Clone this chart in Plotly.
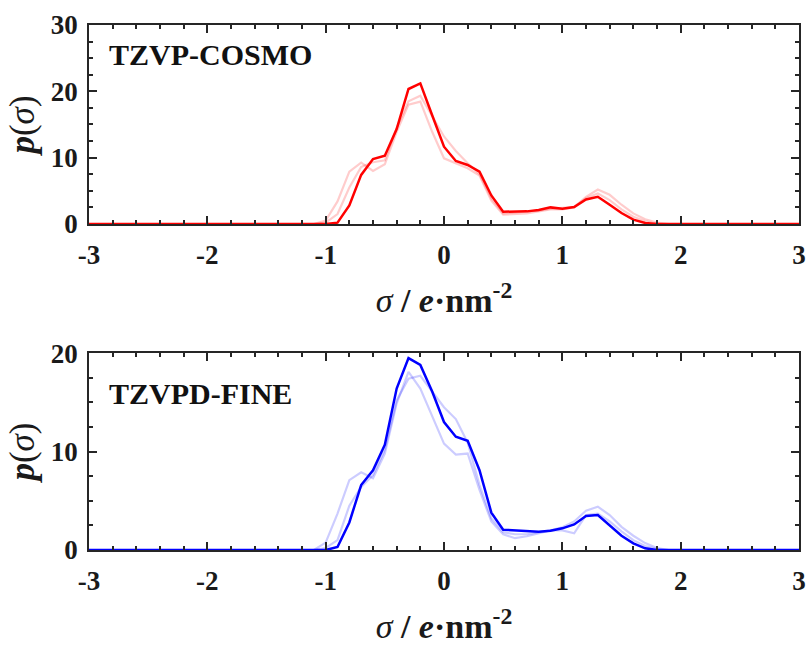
import plotly.graph_objects as go

# Screening-charge grid (e/nm^2)
sigma = [-3.0, -1.1, -1.0, -0.9, -0.8, -0.7, -0.6, -0.5, -0.4, -0.3, -0.2, -0.1,
         0.0, 0.1, 0.2, 0.3, 0.4, 0.5, 0.6, 0.7, 0.8, 0.9, 1.0, 1.1, 1.2, 1.3,
         1.4, 1.5, 1.6, 1.7, 1.8, 1.9, 3.0]

# TZVP-COSMO sigma profiles
cosmo_main = [0, 0, 0, 0.2, 2.8, 7.4, 9.8, 10.3, 14.3, 20.35, 21.2, 16.4,
              11.65, 9.5, 8.9, 7.9, 4.3, 1.85, 1.85, 1.9, 2.1, 2.5, 2.3, 2.55, 3.7, 4.1,
              2.9, 1.65, 0.65, 0.15, 0, 0, 0]
cosmo_ref_a = [0, 0, 0.5, 3.4, 7.9, 9.25, 8.0, 9.0, 13.9, 18.0, 18.45, 13.9,
               9.9, 9.15, 8.4, 7.3, 3.5, 1.4, 1.5, 1.6, 1.9, 2.2, 2.2, 2.5, 4.1, 5.2,
               4.4, 2.9, 1.6, 0.7, 0.2, 0, 0]
cosmo_ref_b = [0, 0, 0.2, 1.5, 5.5, 8.6, 9.3, 9.6, 14.5, 18.5, 19.35, 16.2,
               13.2, 11.0, 9.15, 7.5, 3.9, 1.6, 1.7, 1.8, 2.0, 2.3, 2.4, 2.6, 3.9, 4.6,
               3.6, 2.2, 1.1, 0.4, 0, 0, 0]

# TZVPD-FINE sigma profiles
fine_main = [0, 0, 0, 0.3, 2.8, 6.6, 8.1, 10.7, 16.4, 19.5, 18.8, 16.1,
             13.0, 11.5, 11.1, 8.1, 3.8, 2.06, 2.0, 1.95, 1.85, 1.95, 2.2, 2.6, 3.45, 3.55,
             2.5, 1.45, 0.67, 0.17, 0, 0, 0]
fine_ref_a = [0, 0, 0.75, 3.7, 7.1, 7.9, 7.3, 9.8, 14.9, 18.1, 16.4, 13.5,
              10.8, 9.7, 9.8, 6.1, 2.9, 1.6, 1.2, 1.4, 1.7, 2.0, 2.0, 1.7, 3.55, 3.7,
              2.9, 1.9, 1.0, 0.4, 0.1, 0, 0]
fine_ref_b = [0, 0, 0.2, 1.0, 4.5, 6.4, 7.6, 10.2, 15.2, 17.4, 17.7, 16.1,
              14.5, 13.3, 10.9, 6.6, 3.2, 1.8, 1.6, 1.6, 1.8, 2.0, 2.3, 2.9, 4.0, 4.4,
              3.55, 2.35, 1.45, 0.7, 0.2, 0, 0]

x_ticks = [-3, -2, -1, 0, 1, 2, 3]
panel_labels = ["TZVP-COSMO", "TZVPD-FINE"]

AXIS = "#262626"
SERIF = "Liberation Serif"

fig = go.Figure()


def add_line(y, color, width, xa, ya):
    fig.add_trace(go.Scatter(x=sigma, y=y, mode="lines", xaxis=xa, yaxis=ya,
                             line=dict(color=color, width=width), showlegend=False,
                             hoverinfo="skip"))


# top panel
add_line(cosmo_ref_a, "rgba(255,0,0,0.2)", 2.2, "x", "y")
add_line(cosmo_ref_b, "rgba(255,0,0,0.2)", 2.2, "x", "y")
add_line(cosmo_main, "#ff0000", 2.5, "x", "y")
# bottom panel
add_line(fine_ref_a, "rgba(0,0,255,0.2)", 2.2, "x2", "y2")
add_line(fine_ref_b, "rgba(0,0,255,0.2)", 2.2, "x2", "y2")
add_line(fine_main, "#0000ff", 2.5, "x2", "y2")

xtitle = "<i>σ</i><b> / <i>e</i>·nm<sup>-2</sup></b>"
ytitle = "<b><i>p</i></b>(<i>σ</i>)"


def xaxis_cfg(anchor):
    return dict(
        anchor=anchor, range=[-3, 3], tickvals=x_ticks, ticktext=[str(v) for v in x_ticks],
        ticks="inside", ticklen=8, tickwidth=1.5, tickcolor=AXIS,
        minor=dict(dtick=0.2, ticks="inside", ticklen=4, tickwidth=1.5, tickcolor=AXIS),
        showline=True, linecolor=AXIS, linewidth=1.5, mirror="ticks",
        showgrid=False, zeroline=False, automargin=False,
        tickfont=dict(family=SERIF, size=27, color="#1a1a1a", weight="bold"),
        ticklabelstandoff=6,
        title=dict(text=xtitle, font=dict(family=SERIF, size=34, color="#1a1a1a"), standoff=19),
    )


def yaxis_cfg(anchor, top, domain):
    return dict(
        anchor=anchor, domain=domain, range=[0, top], dtick=10,
        ticks="inside", ticklen=8, tickwidth=1.5, tickcolor=AXIS,
        minor=dict(dtick=2.5, ticks="inside", ticklen=4, tickwidth=1.5, tickcolor=AXIS),
        showline=True, linecolor=AXIS, linewidth=1.5, mirror="ticks",
        showgrid=False, zeroline=False, automargin=False,
        tickfont=dict(family=SERIF, size=27, color="#1a1a1a", weight="bold"),
        ticklabelstandoff=4,
        title=dict(text=ytitle, font=dict(family=SERIF, size=35, color="#1a1a1a"), standoff=6),
    )


fig.update_layout(
    width=811, height=645,
    margin=dict(l=89, r=12, t=25, b=95),
    paper_bgcolor="white", plot_bgcolor="white",
    xaxis=xaxis_cfg("y"),
    yaxis=yaxis_cfg("x", 30, [0.621, 1.0]),
    xaxis2=xaxis_cfg("y2"),
    yaxis2=yaxis_cfg("x2", 20, [0.0, 0.375]),
)

label_pos = [("x domain", "y domain", 0.85), ("x2 domain", "y2 domain", 0.795)]
for (xr, yr, yy), label in zip(label_pos, panel_labels):
    fig.add_annotation(
        text="<b>" + label + "</b>", xref=xr, yref=yr, x=0.026, y=yy,
        xanchor="left", yanchor="middle", showarrow=False,
        font=dict(family=SERIF, size=30, color="#111111"),
    )

fig.write_html("out.html")
